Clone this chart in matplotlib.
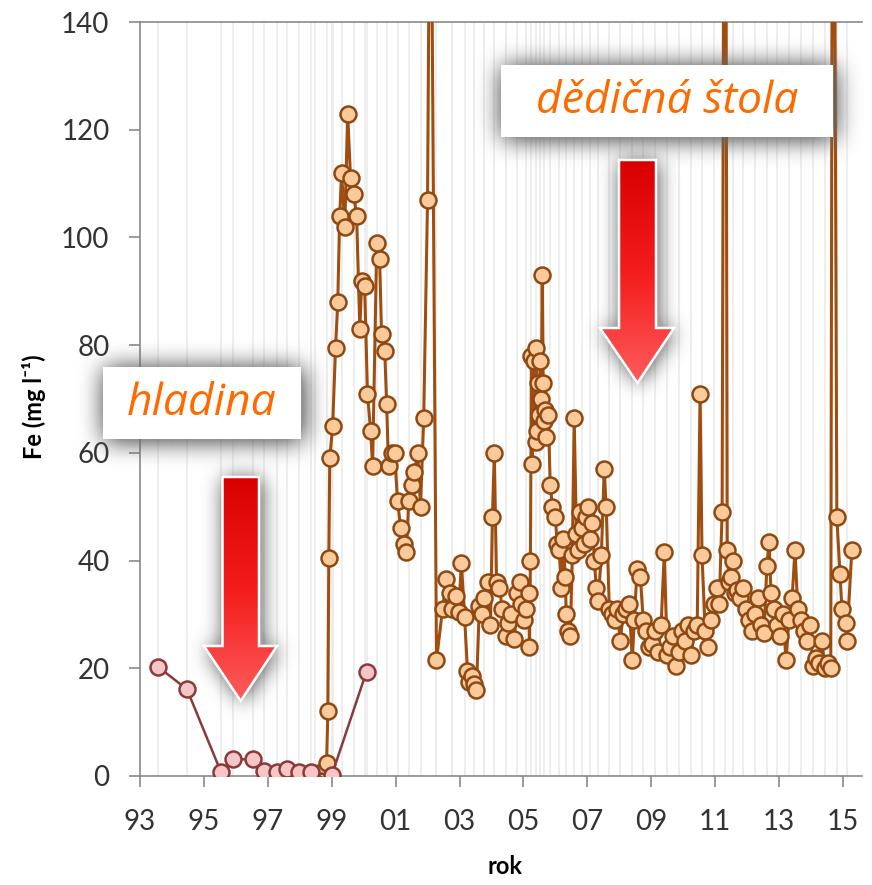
import numpy as np
import matplotlib
matplotlib.use('Agg')
import matplotlib.pyplot as plt
from matplotlib.path import Path
from matplotlib.patches import PathPatch, Rectangle
from matplotlib.colors import LinearSegmentedColormap

plt.rcParams['font.family'] = ['Lato', 'DejaVu Sans']

# Fe v hladině (water level samples)
hladina_rok = [1993.56, 1994.47, 1995.53, 1995.91, 1996.53, 1996.88, 1997.28,
               1997.59, 1997.97, 1998.34, 1999.00, 2000.09]
hladina_fe = [20.3, 16.1, 0.8, 3.1, 3.1, 0.9, 0.7, 1.3, 0.7, 0.8, 0.1, 19.4]

# Fe na výtoku dědičné štoly
stola_rok = [
    1998.47, 1998.59, 1998.69, 1998.78, 1998.84, 1998.88, 1998.91, 1998.94,
    1999.03, 1999.12, 1999.19, 1999.25, 1999.31, 1999.41, 1999.50, 1999.59,
    1999.69, 1999.78, 1999.88, 1999.94,
    2000.03, 2000.12, 2000.22, 2000.28, 2000.41, 2000.50, 2000.56, 2000.66,
    2000.72, 2000.78, 2000.88, 2000.97,
    2001.06, 2001.16, 2001.25, 2001.34, 2001.41, 2001.50, 2001.59, 2001.69,
    2001.78, 2001.88,
    2002.00, 2002.09, 2002.28, 2002.47, 2002.59, 2002.69, 2002.78, 2002.88,
    2002.97,
    2003.06, 2003.16, 2003.25, 2003.31, 2003.38, 2003.44, 2003.53, 2003.62,
    2003.69, 2003.78, 2003.88, 2003.97,
    2004.03, 2004.09, 2004.16, 2004.25, 2004.34, 2004.44, 2004.53, 2004.62,
    2004.72, 2004.81, 2004.88, 2004.94,
    2005.03, 2005.09, 2005.16, 2005.19, 2005.22, 2005.25, 2005.28, 2005.34,
    2005.38, 2005.41, 2005.44, 2005.47, 2005.50, 2005.53, 2005.56, 2005.59,
    2005.62, 2005.66, 2005.69, 2005.72, 2005.78, 2005.84, 2005.91,
    2006.00, 2006.06, 2006.12, 2006.19, 2006.25, 2006.31, 2006.34, 2006.41,
    2006.47, 2006.53, 2006.59, 2006.66, 2006.72, 2006.78, 2006.84, 2006.91,
    2006.97,
    2007.03, 2007.09, 2007.16, 2007.22, 2007.28, 2007.34, 2007.44, 2007.53,
    2007.59, 2007.69, 2007.78, 2007.88, 2007.94,
    2008.03, 2008.12, 2008.22, 2008.31, 2008.41, 2008.47, 2008.56, 2008.66,
    2008.75, 2008.84, 2008.94,
    2009.03, 2009.12, 2009.22, 2009.31, 2009.41, 2009.50, 2009.59, 2009.69,
    2009.78, 2009.88, 2009.97,
    2010.06, 2010.16, 2010.25, 2010.34, 2010.44, 2010.53, 2010.59, 2010.69,
    2010.78, 2010.88, 2010.97,
    2011.06, 2011.13, 2011.22, 2011.31, 2011.38, 2011.44, 2011.50, 2011.56,
    2011.62, 2011.69, 2011.78, 2011.88, 2011.97,
    2012.06, 2012.16, 2012.25, 2012.34, 2012.44, 2012.53, 2012.62, 2012.69,
    2012.75, 2012.84, 2012.94,
    2013.03, 2013.12, 2013.22, 2013.31, 2013.41, 2013.50, 2013.59, 2013.69,
    2013.78, 2013.88, 2013.97,
    2014.06, 2014.16, 2014.25, 2014.34, 2014.44, 2014.53, 2014.62, 2014.69,
    2014.81, 2014.91, 2014.97,
    2015.09, 2015.12, 2015.28,
]
stola_fe = [
    0.3, 0.5, 0.2, 1.2, 2.4, 12, 40.5, 59,
    65, 79.5, 88, 104, 112, 102, 123, 111,
    108, 104, 83, 92,
    91, 71, 64, 57.5, 99, 96, 82, 79,
    69, 57.5, 60, 60,
    51, 46, 43, 41.5, 51, 54, 56.5, 60,
    50, 66.5,
    107, 190, 21.5, 31, 36.5, 34, 31, 33.5,
    30.5,
    39.5, 29.5, 19.5, 17.5, 18.5, 17, 16, 31.5,
    30, 33, 36, 28,
    48, 60, 36, 35, 31, 26, 28.5, 30,
    25.5, 34, 36, 32,
    29, 31, 34, 24, 40, 78, 58, 77,
    62, 79.5, 64, 73, 67, 77, 70, 93,
    73, 66, 68, 63, 67, 54, 50,
    48, 43, 42, 35, 44, 37, 30, 27,
    26, 41, 66.5, 45, 42, 49, 46, 43,
    48,
    50, 44, 47, 40, 35, 32.5, 41, 57,
    50, 31, 30, 29, 31,
    25, 30, 31, 32, 21.5, 29, 38.5, 37,
    29, 27, 24,
    24.5, 27, 23, 28, 41.5, 22.5, 24, 26,
    20.5, 23, 27,
    25, 28, 22.5, 27, 28, 71, 41, 27,
    24, 29, 32,
    35, 32, 49, 250, 42, 36, 37, 40,
    34, 34.5, 33, 35, 31,
    29, 27, 30, 33, 28, 26.5, 39, 43.5,
    34, 31, 28,
    26, 30, 21.5, 29, 33, 42, 31, 29,
    27, 25, 28,
    20.5, 22, 21, 25, 20, 21, 20, 240,
    48, 37.5, 31,
    28.5, 25, 42,
]

tick_roky = [1993, 1995, 1997, 1999, 2001, 2003, 2005, 2007, 2009, 2011, 2013, 2015]
tick_popisky = ['93', '95', '97', '99', '01', '03', '05', '07', '09', '11', '13', '15']

W, H = 872, 885
fig = plt.figure(figsize=(W / 100, H / 100), dpi=100)
ax = fig.add_axes([140 / W, 1 - 776 / H, 722 / W, 754 / H])

# light vertical grid at sampling dates
for x in hladina_rok + stola_rok[::4]:
    ax.axvline(x, color='#ebebeb', lw=1.2, zorder=0)

ax.plot(stola_rok, stola_fe, '-o', color='#A04E10', lw=2.2, ms=11.5,
        mfc='#FBCA9A', mec='#8E4912', mew=1.8, zorder=3)
ax.plot(hladina_rok, hladina_fe, '-o', color='#8A3A3A', lw=1.8, ms=11.5,
        mfc='#F6C6C6', mec='#8A3A3A', mew=1.8, zorder=4)

ax.set_xlim(1993, 1993 + 722 / 31.95)
ax.set_ylim(0, 140)
ax.set_yticks(range(0, 141, 20))
ax.set_xticks(tick_roky)
ax.set_xticklabels(tick_popisky)

for s in ['left', 'bottom', 'top']:
    ax.spines[s].set_color('#8a8a8a')
    ax.spines[s].set_linewidth(1.2)
ax.spines['right'].set_visible(False)
ax.tick_params(direction='out', length=8, width=1.2, color='#8a8a8a',
               labelsize=20, labelcolor='#333333')
ax.tick_params(axis='y', pad=14)
ax.tick_params(axis='x', pad=16)

ax.set_ylabel('Fe (mg l⁻¹)', fontsize=17, fontweight='bold')
ax.yaxis.set_label_coords(-0.13, 0.49)
ax.set_xlabel('rok', fontsize=17, fontweight='bold')
ax.xaxis.set_label_coords(0.505, -0.105)

# overlay in pixel coordinates for the callouts
ov = fig.add_axes([0, 0, 1, 1])
ov.set_axis_off()
ov.set_zorder(10)


def box_blur(a, k, n=3):
    kern = np.ones(k) / k
    for _ in range(n):
        a = np.apply_along_axis(lambda r: np.convolve(r, kern, mode='same'), 1, a)
        a = np.apply_along_axis(lambda c: np.convolve(c, kern, mode='same'), 0, a)
    return a


def glow(path, pad=70, k=24, strength=0.7):
    x0, y0, w, h = path.get_extents().bounds
    xs = np.arange(int(x0) - pad, int(x0 + w) + pad)
    ys = np.arange(int(y0) - pad, int(y0 + h) + pad)
    X, Y = np.meshgrid(xs + 0.5, ys + 0.5)
    pts = np.column_stack([X.ravel(), Y.ravel()])
    mask = path.contains_points(pts).reshape(X.shape).astype(float)
    mask = box_blur(mask, k)
    rgba = np.zeros(mask.shape + (4,))
    rgba[..., :3] = 0.4
    rgba[..., 3] = strength * np.clip(mask * 2.0, 0, 1)
    ov.imshow(rgba, extent=(xs[0], xs[-1] + 1, ys[-1] + 1, ys[0]),
              origin='upper', interpolation='bilinear', aspect='auto', zorder=1)


def callout(x0, y0, x1, y1, text):
    rect = Path([(x0, y0), (x1, y0), (x1, y1), (x0, y1), (x0, y0)])
    glow(rect)
    ov.add_patch(Rectangle((x0, y0), x1 - x0, y1 - y0, fc='white', ec='none', zorder=2))
    ov.text((x0 + x1) / 2, (y0 + y1) / 2 + 1, text, ha='center', va='center',
            fontsize=32, style='italic', color='#FF6A00', zorder=3,
            family=['Open Sans', 'Lato', 'DejaVu Sans'])


red = LinearSegmentedColormap.from_list('red', ['#D80000', '#F41C1C', '#FF5C5C'])


def arrow(xl, xr, top, neck, hl, hr, tip):
    xm = (xl + xr) / 2
    verts = [(xl, top), (xr, top), (xr, neck), (hr, neck), (xm, tip),
             (hl, neck), (xl, neck), (xl, top)]
    path = Path(verts, closed=True)
    glow(path, pad=60, k=20, strength=0.6)
    patch = PathPatch(path, fc='none', ec='white', lw=1.8, zorder=3)
    ov.add_patch(patch)
    grad = np.linspace(0, 1, 256).reshape(-1, 1)
    im = ov.imshow(grad, cmap=red, extent=(hl, hr, tip, top), origin='upper',
                   aspect='auto', zorder=2)
    im.set_clip_path(patch)


callout(103, 367, 301, 439, 'hladina')
callout(501, 65, 833, 137, 'dědičná štola')
arrow(222.5, 259, 477, 646, 204, 277, 701)
arrow(619, 656, 160, 328, 600, 674, 383)

ov.set_xlim(0, W)
ov.set_ylim(H, 0)

fig.savefig('out.png', dpi=100)
